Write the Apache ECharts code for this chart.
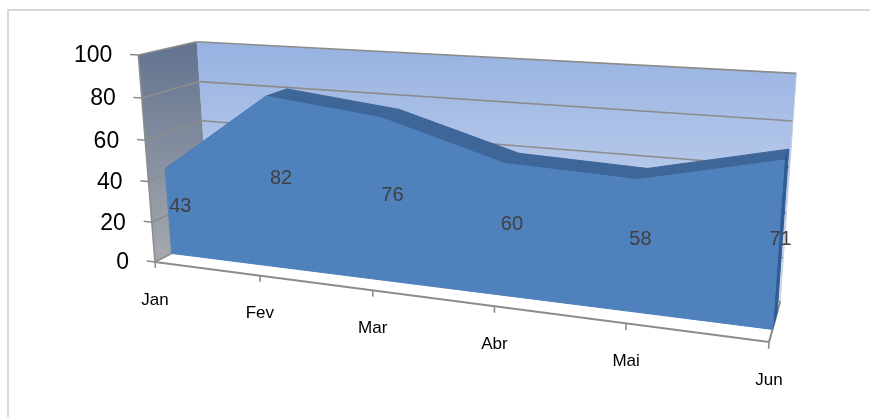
<!DOCTYPE html>
<html>
<head>
<meta charset="utf-8">
<script src="https://cdn.jsdelivr.net/npm/echarts@6/dist/echarts.min.js"></script>
<style>
  html, body { margin: 0; padding: 0; background: #ffffff; }
  #chart { width: 870px; height: 417px; }
</style>
</head>
<body>
<div id="chart"></div>
<script>
// Monthly values
const categories = ['Jan', 'Fev', 'Mar', 'Abr', 'Mai', 'Jun'];
const values = [43, 82, 76, 60, 58, 71];
const valueTicks = [0, 20, 40, 60, 80, 100];

// Flat grid whose scales are evaluated before the 3D projection (axes hidden)
const PW = 400, PH = 400;

// Perspective camera: image of the origin, vanishing points of the
// category / value / depth directions and their homogeneous weights
const CAM = {
  o: [155, 262],
  vx: [-2720, -112],
  vy: [488, 4400],
  vz: [895, -117],
  a: -0.176, b: -0.04764, c: 0.0796
};
// depth band occupied by the area (0 = front edge of floor, 1 = back wall)
const Z_FRONT = 0.29, Z_BACK = 0.71, Z_MID = 0.5;

const FONT = "'Liberation Sans', Arial, sans-serif";
const GRID_COLOR = '#8c8c8c';

function project(X, Y, Z) {
  const a = CAM.a * X, b = CAM.b * Y, c = CAM.c * Z;
  const hx = CAM.o[0] + a * CAM.vx[0] + b * CAM.vy[0] + c * CAM.vz[0];
  const hy = CAM.o[1] + a * CAM.vx[1] + b * CAM.vy[1] + c * CAM.vz[1];
  const w = 1 + a + b + c;
  return [hx / w, hy / w];
}

// axis scales -> unit cube coordinates
function unit(api, cat, val) {
  const p = api.coord([cat, val]);
  return [p[0] / PW, 1 - p[1] / PH];
}

function P(api, cat, val, z) {
  const u = unit(api, cat, val);
  return project(u[0], u[1], z);
}

function seg(p1, p2, color, width) {
  return {
    type: 'line',
    shape: { x1: p1[0], y1: p1[1], x2: p2[0], y2: p2[1] },
    style: { stroke: color, lineWidth: width }
  };
}

function poly(points, fill, stroke) {
  const style = { fill: fill };
  if (stroke) { style.stroke = stroke; style.lineWidth = 1; style.lineJoin = 'round'; }
  return { type: 'polygon', shape: { points: points }, style: style };
}

function text(pos, str, size, color, align) {
  return {
    type: 'text',
    x: pos[0], y: pos[1],
    style: {
      text: str, fill: color, fontSize: size, fontFamily: FONT,
      align: align || 'center', verticalAlign: 'middle'
    }
  };
}

// walls, floor, gridlines and both axes
function renderFrame(params, api) {
  const last = categories.length - 1;
  const vMin = valueTicks[0], vMax = valueTicks[valueTicks.length - 1];
  const ch = [];

  ch.push(poly([P(api, 0, vMin, 1), P(api, last, vMin, 1), P(api, last, vMax, 1), P(api, 0, vMax, 1)],
    new echarts.graphic.LinearGradient(0, 0, 0, 1, [
      { offset: 0, color: '#97b2e1' },
      { offset: 1, color: '#d3def2' }
    ])));
  ch.push(poly([P(api, 0, vMin, 0), P(api, 0, vMin, 1), P(api, 0, vMax, 1), P(api, 0, vMax, 0)],
    new echarts.graphic.LinearGradient(0, 0, 0, 1, [
      { offset: 0, color: '#62738f' },
      { offset: 1, color: '#a6a9af' }
    ])));
  ch.push(poly([P(api, 0, vMin, 0), P(api, last, vMin, 0), P(api, last, vMin, 1), P(api, 0, vMin, 1)], '#ffffff'));

  valueTicks.forEach(function (t) {
    ch.push(seg(P(api, 0, t, 0), P(api, 0, t, 1), GRID_COLOR, 1.6));
    ch.push(seg(P(api, 0, t, 1), P(api, last, t, 1), GRID_COLOR, 1.6));
  });
  ch.push(seg(P(api, last, vMin, 1), P(api, last, vMax, 1), '#c8cfdc', 1));

  // value axis
  ch.push(seg(P(api, 0, vMin, 0), P(api, 0, vMax, 0), GRID_COLOR, 1.6));
  valueTicks.forEach(function (t) {
    const u = unit(api, 0, t);
    const p0 = project(u[0], u[1], 0);
    const p1 = project(u[0] - 0.016, u[1], 0);
    ch.push(seg(p1, p0, GRID_COLOR, 1.6));
    ch.push(text([p0[0] - 26, p0[1] + 1], String(t), 23, '#000000', 'right'));
  });

  // category axis
  ch.push(seg(P(api, 0, vMin, 0), P(api, last, vMin, 0), GRID_COLOR, 2));
  ch.push(seg(P(api, last, vMin, 0), P(api, last, vMin, 1), GRID_COLOR, 2));
  categories.forEach(function (name, i) {
    const u = unit(api, i, vMin);
    const p0 = project(u[0], u[1], 0);
    const p1 = project(u[0], u[1] - 0.03, 0);
    ch.push(seg(p0, p1, GRID_COLOR, 1.6));
    ch.push(text([p0[0], p0[1] + 38], name, 17, '#000000', 'center'));
  });

  return { type: 'group', children: ch };
}

// top faces of each segment, plus the visible end face at the last month
function renderTop(params, api) {
  const i = api.value(0), v = api.value(1);
  const last = values.length - 1;
  const ch = [];
  if (i < last) {
    ch.push(poly([
      P(api, i, v, Z_FRONT), P(api, i + 1, values[i + 1], Z_FRONT),
      P(api, i + 1, values[i + 1], Z_BACK), P(api, i, v, Z_BACK)
    ], '#3f6698', '#3f6698'));
  } else {
    ch.push(poly([
      P(api, i, 0, Z_FRONT), P(api, i, v, Z_FRONT),
      P(api, i, v, Z_BACK), P(api, i, 0, Z_BACK)
    ], '#2f5d92', '#2f5d92'));
  }
  return { type: 'group', children: ch };
}

// front face, one trapezoid per segment
function renderFront(params, api) {
  const i = api.value(0), v = api.value(1);
  if (i >= values.length - 1) return null;
  const n = values[i + 1];
  return poly([
    P(api, i, 0, Z_FRONT), P(api, i, v, Z_FRONT),
    P(api, i + 1, n, Z_FRONT), P(api, i + 1, 0, Z_FRONT)
  ], '#4f81bd', '#4f81bd');
}

// value labels, halfway up the area in the middle of its depth
function renderLabels(params, api) {
  const i = api.value(0), v = api.value(1);
  return text(P(api, i, v / 2, Z_MID), String(v), 20, '#404040', 'center');
}

const pointData = values.map(function (v, i) { return [i, v]; });

const chart = echarts.init(document.getElementById('chart'), null, { renderer: 'canvas' });
chart.setOption({
  animation: false,
  backgroundColor: '#ffffff',
  grid: { left: 0, top: 0, width: PW, height: PH, containLabel: false, show: false },
  xAxis: { type: 'category', data: categories, boundaryGap: false, show: false },
  yAxis: { type: 'value', min: 0, max: 100, interval: 20, show: false },
  graphic: [{
    type: 'rect', z: 100,
    shape: { x: 8, y: 10, width: 900, height: 500 },
    style: { fill: 'none', stroke: '#d9d9d9', lineWidth: 2 },
    silent: true
  }],
  series: [
    { type: 'custom', name: 'frame', z: 1, renderItem: renderFrame, data: [[0, 0]], silent: true },
    { type: 'custom', name: 'top', z: 2, renderItem: renderTop, data: pointData, silent: true },
    { type: 'custom', name: 'front', z: 3, renderItem: renderFront, data: pointData, silent: true },
    { type: 'custom', name: 'labels', z: 4, renderItem: renderLabels, data: pointData, silent: true }
  ]
});
</script>
</body>
</html>
